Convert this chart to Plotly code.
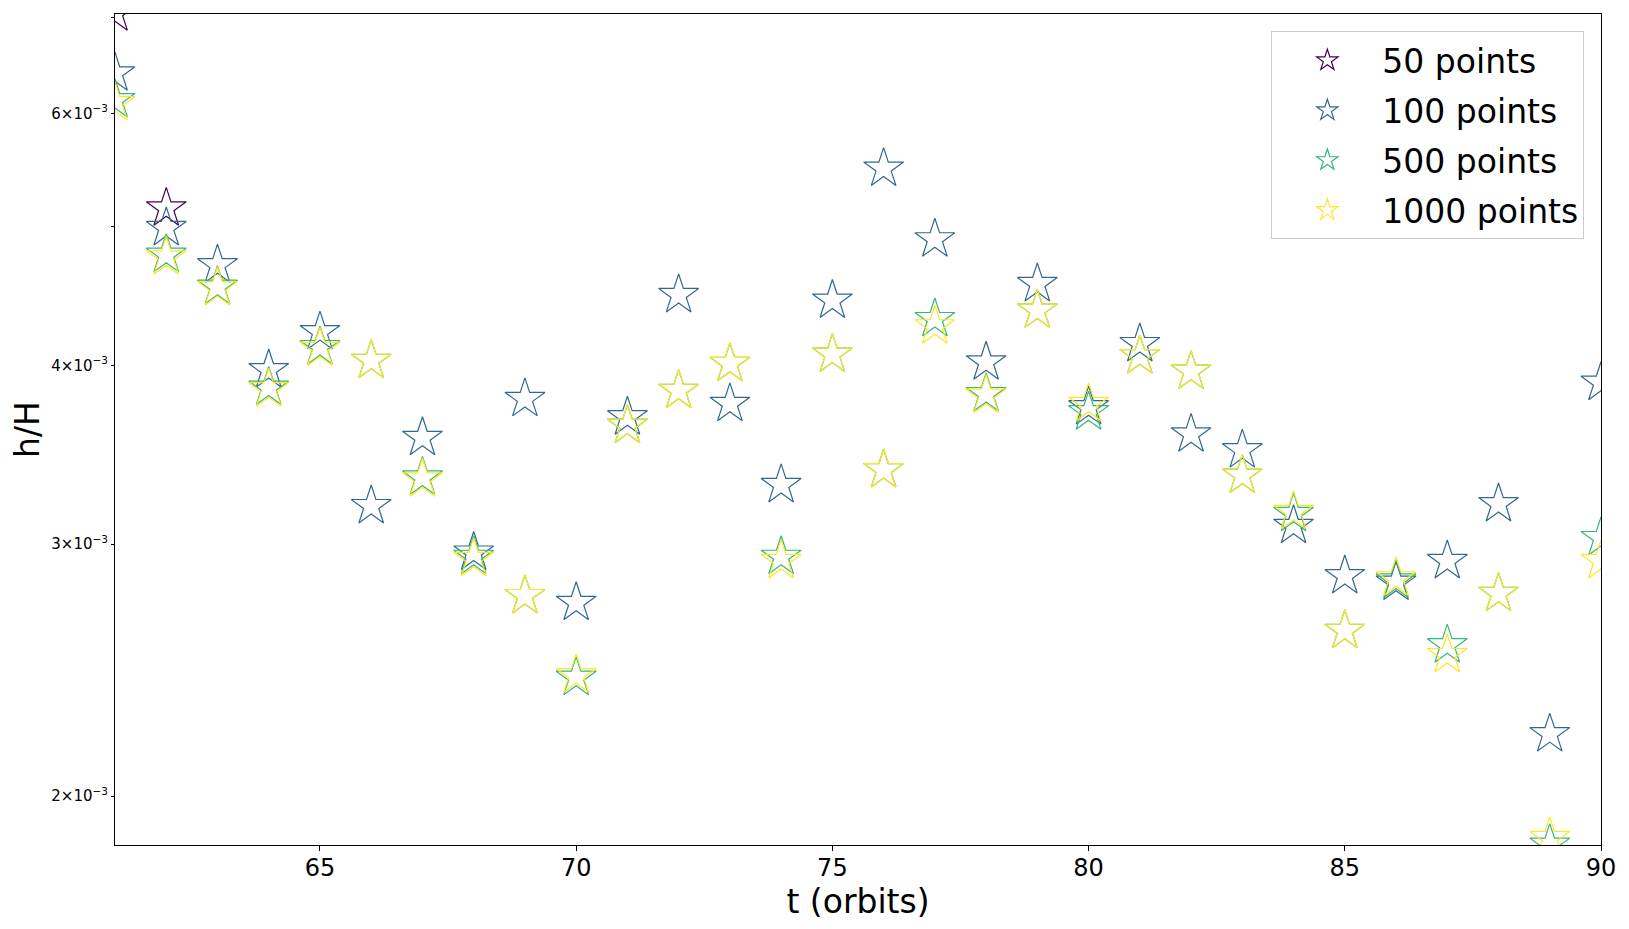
import plotly.graph_objects as go

# orbit times
t = list(range(61, 91))

# h/H for each resolution
h50_t = [61, 62]
h50 = [7.05e-3, 5.15e-3]

h100 = [6.40e-3, 4.99e-3, 4.70e-3, 3.97e-3, 4.22e-3, 3.19e-3, 3.56e-3, 2.96e-3, 3.79e-3, 2.73e-3,
        3.68e-3, 4.48e-3, 3.76e-3, 3.30e-3, 4.44e-3, 5.49e-3, 4.90e-3, 4.02e-3, 4.56e-3, 3.74e-3,
        4.14e-3, 3.58e-3, 3.49e-3, 3.09e-3, 2.85e-3, 2.82e-3, 2.92e-3, 3.20e-3, 2.21e-3, 3.89e-3]

h500 = [6.13e-3, 4.78e-3, 4.54e-3, 3.86e-3, 4.12e-3, 4.03e-3, 3.34e-3, 2.94e-3, 2.76e-3, 2.42e-3,
        3.63e-3, 3.84e-3, 4.01e-3, 2.94e-3, 4.07e-3, 3.38e-3, 4.31e-3, 3.82e-3, 4.37e-3, 3.71e-3,
        4.06e-3, 3.96e-3, 3.35e-3, 3.15e-3, 2.61e-3, 2.83e-3, 2.55e-3, 2.77e-3, 1.85e-3, 3.03e-3]

h1000 = [6.10e-3, 4.76e-3, 4.53e-3, 3.85e-3, 4.11e-3, 4.03e-3, 3.33e-3, 2.93e-3, 2.76e-3, 2.43e-3,
         3.63e-3, 3.84e-3, 4.01e-3, 2.92e-3, 4.07e-3, 3.38e-3, 4.26e-3, 3.81e-3, 4.37e-3, 3.76e-3,
         4.06e-3, 3.96e-3, 3.35e-3, 3.16e-3, 2.61e-3, 2.84e-3, 2.51e-3, 2.77e-3, 1.87e-3, 2.92e-3]

names = ["50 points", "100 points", "500 points", "1000 points"]
colors = ["#440154", "#31688e", "#35b779", "#fde725"]

ytick_vals = [2e-3, 3e-3, 4e-3, 6e-3]
ytick_text = ["2×10<sup>−3</sup>", "3×10<sup>−3</sup>", "4×10<sup>−3</sup>", "6×10<sup>−3</sup>"]
yminor_vals = [5e-3, 7e-3]
xtick_vals = [65, 70, 75, 80, 85, 90]

fig = go.Figure()
series = [(h50_t, h50), (t, h100), (t, h500), (t, h1000)]
for i in range(4):
    fig.add_trace(go.Scatter(
        x=series[i][0], y=series[i][1], mode="markers", name=names[i],
        legendgroup=names[i],
        marker=dict(symbol="star-open", size=30, color=colors[i],
                    line=dict(width=1.2, color=colors[i]))))

font = "DejaVu Sans, Liberation Sans, sans-serif"
# page body has an 8px margin, so the figure is a bit smaller than the window
fig.update_layout(
    width=1613, height=913,
    margin=dict(l=107, r=18, t=5, b=76),
    paper_bgcolor="white", plot_bgcolor="white",
    font=dict(family=font, color="black"),
    showlegend=True,
    legend=dict(x=0.9888, y=0.979, xanchor="right", yanchor="top",
                font=dict(size=33, family=font), tracegroupgap=4,
                bgcolor="rgba(255,255,255,0.8)", bordercolor="#cccccc", borderwidth=1,
                itemwidth=100),
)
fig.update_xaxes(range=[61, 90], tickvals=xtick_vals, ticks="outside", ticklen=5,
                 tickwidth=1, tickcolor="black", tickfont=dict(size=24),
                 ticklabelstandoff=-4,
                 showline=True, linecolor="black", linewidth=1, mirror=True,
                 showgrid=False, zeroline=False,
                 title=dict(text="t (orbits)", font=dict(size=33), standoff=9))
fig.update_yaxes(type="log", range=[-2.7331, -2.1524], tickvals=ytick_vals,
                 ticktext=ytick_text, ticks="outside", ticklen=3, tickwidth=1,
                 tickcolor="black", tickfont=dict(size=15),
                 minor=dict(tickvals=yminor_vals, ticks="outside", ticklen=3,
                            tickwidth=1, tickcolor="black", showgrid=False),
                 showline=True, linecolor="black", linewidth=1, mirror=True,
                 showgrid=False, zeroline=False,
                 title=dict(text="h/H", font=dict(size=33), standoff=10))

fig.write_html("out.html")
